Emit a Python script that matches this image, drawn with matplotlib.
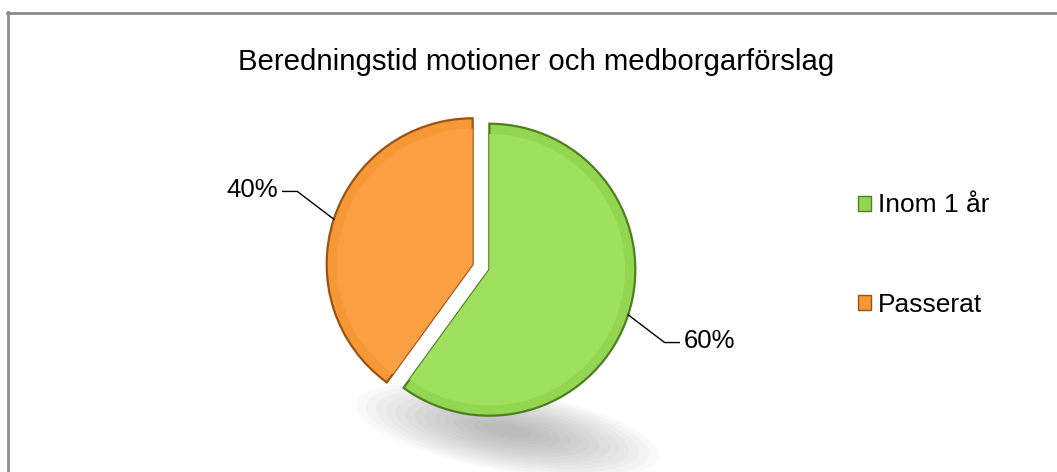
import numpy as np
import matplotlib.pyplot as plt
from matplotlib.patches import Ellipse, Patch
from matplotlib.lines import Line2D

# Data
kategorier = ["Inom 1 år", "Passerat"]
andelar = [60, 40]
etiketter = ["60%", "40%"]
farger = ["#92D652", "#F79837"]
kantfarger = ["#4E7F22", "#9A5217"]

plt.rcParams["font.family"] = ["Liberation Sans", "DejaVu Sans"]

fig = plt.figure(figsize=(10.57, 4.72), dpi=100)
W, H = 1057, 472

# frame (top and left only, the rest is cropped)
fig.add_artist(Line2D([7 / W, 1], [1 - 12.5 / H, 1 - 12.5 / H], color="#8c8c8c", lw=2))
fig.add_artist(Line2D([7.5 / W, 7.5 / W], [0, 1 - 12 / H], color="#8c8c8c", lw=2))

fig.text(536 / W, 1 - 62 / H, "Beredningstid motioner och medborgarförslag",
         ha="center", va="center", fontsize=21.2)

# pie axes: radius 1 = 145 px, centre at (481, 267)
r_px = 146
lim = 1.6
size = 2 * lim * r_px
cx, cy = 481, 267
ax = fig.add_axes([(cx - size / 2) / W, (H - cy - size / 2) / H, size / W, size / H])

# soft shadow under the pie
for i in range(14):
    k = 1 - i / 14
    ax.add_patch(Ellipse((0.18, -1.12), 1.9 * k + 0.2, 0.5 * k + 0.05, angle=-10,
                         color="#6f6f6f", alpha=0.04, lw=0, zorder=0))

expl = 0.06
wedges, _ = ax.pie(andelar, colors=farger, startangle=90, counterclock=False,
                   explode=[expl, expl], radius=1,
                   wedgeprops=dict(linewidth=1.6))
for w, kc in zip(wedges, kantfarger):
    w.set_edgecolor(kc)
    w.set_zorder(2)

# lighter inner bevel
ax.pie(andelar, colors=["#9FE05E", "#FA9F42"], startangle=90, counterclock=False,
       explode=[expl, expl], radius=0.93,
       wedgeprops=dict(linewidth=0, zorder=3))

ax.set_xlim(-lim, lim)
ax.set_ylim(-lim, lim)
ax.set_aspect("equal")
ax.axis("off")

# labels with leader lines
for w, txt in zip(wedges, etiketter):
    mid = np.deg2rad((w.theta1 + w.theta2) / 2)
    c, s = np.cos(mid), np.sin(mid)
    ax0 = (1 + expl) * c
    ay0 = (1 + expl) * s
    ex = ax0 + 0.25 * np.sign(c)
    ey = ay0 + 0.19 * np.sign(s)
    hx = ex + 0.1 * np.sign(c)
    ax.plot([ax0, ex, hx], [ay0, ey, ey], color="black", lw=1, zorder=4)
    ax.text(hx + 0.03 * np.sign(c), ey + 0.01, txt, fontsize=18.5,
            ha="left" if c > 0 else "right", va="center")

handles = [Patch(facecolor=f, edgecolor=k, lw=1) for f, k in zip(farger, kantfarger)]
fig.legend(handles, kategorier, loc="center left",
           bbox_to_anchor=(845 / W, 1 - 255 / H), frameon=False, fontsize=19,
           handlelength=0.5, handleheight=0.5, handletextpad=0.25,
           labelspacing=2.85, borderpad=0)

fig.savefig("out.png", dpi=100)
